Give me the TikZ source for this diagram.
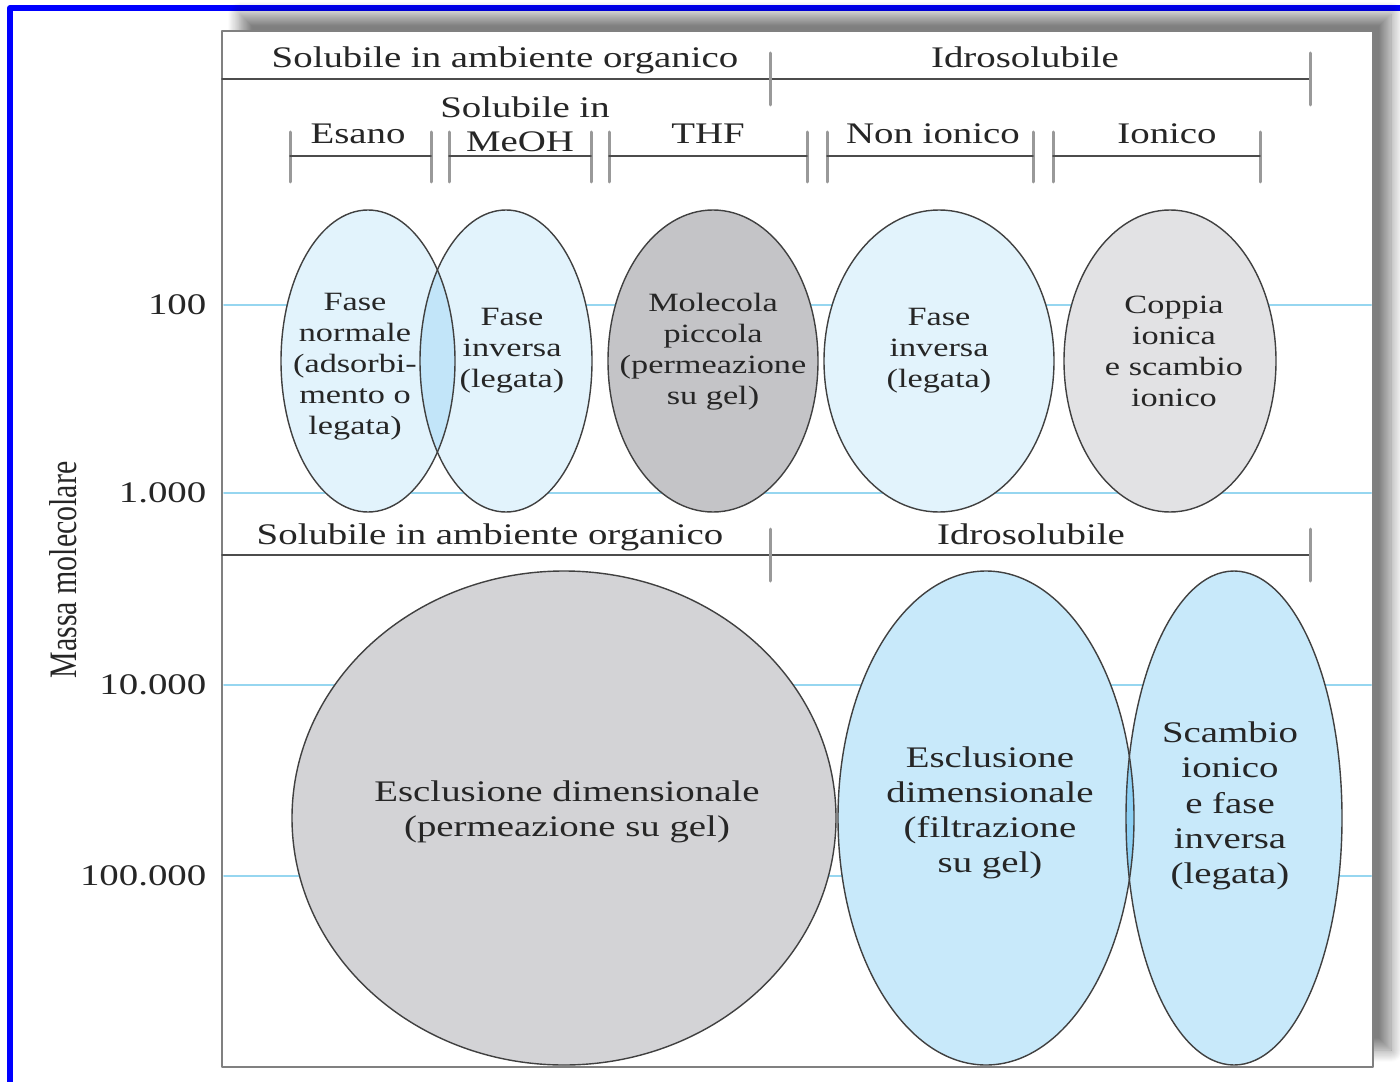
\documentclass[tikz,border=0pt]{standalone}
\usepackage{fontspec}
\setmainfont[FakeStretch=1.3]{Liberation Serif}
\newfontfamily\assefont{Liberation Serif}
\usetikzlibrary{shadows.blur}
\definecolor{cornice}{RGB}{0,0,255}
\definecolor{griglia}{RGB}{150,214,240}
\definecolor{celeste}{RGB}{226,243,252}
\definecolor{azzurro}{RGB}{200,233,250}
\definecolor{lente}{RGB}{194,229,249}
\definecolor{lentescura}{RGB}{140,208,244}
\definecolor{grigio}{RGB}{196,196,199}
\definecolor{grigiochiaro}{RGB}{226,226,228}
\definecolor{grigiomedio}{RGB}{211,211,214}
\begin{document}
\begin{tikzpicture}[x=0.01cm,y=-0.01cm,line join=round,line cap=round,
  font=\fontsize{8.5}{10}\selectfont,
  linea/.style={draw=black!70,line width=0.018cm},
  staffa/.style={draw=black!40,line width=0.03cm},
  bordo/.style={draw=black!75,line width=0.014cm},
  testo/.style={align=center,inner sep=0pt,text=black!85},
  piccolo/.style={testo,font=\fontsize{7.5}{8.8}\selectfont}]
\def \xmin{222};
\def \xmax{1373};
\useasboundingbox (0,0) rectangle (1400,1082);
\clip (0,0) rectangle (1400,1082);
\draw[cornice,line width=0.06cm] (10,1100) |- (1420,8);
\path[fill=white,draw=black!50,line width=0.02cm,
  blur shadow={shadow xshift=0.18cm,shadow yshift=0.17cm,shadow blur radius=0.12cm,
    shadow blur steps=12,shadow opacity=50}]
  (\xmin,31) rectangle (\xmax,1067);
\foreach \y/\l in {305/100,493/{1.000},685/{10.000},876/{100.000}}{
  \draw[griglia,line width=0.02cm] (\xmin+2,\y) -- (\xmax-2,\y);
  \node[testo,anchor=east] (m\y) at (207,\y) {\l};}
\node[rotate=90,inner sep=0pt,text=black!85] (massa) at (63,570) {\assefont\scalebox{1}[1.3]{Massa molecolare}};
\foreach \y in {79,555}{
  \draw[linea] (\xmin,\y) -- (1310,\y);
  \draw[staffa] (770,\y-26) -- (770,\y+26) (1310,\y-26) -- (1310,\y+26);}
\node[testo,anchor=base] (org1) at (505,68) {Solubile in ambiente organico};
\node[testo,anchor=base] (idro1) at (1025,68) {Idrosolubile};
\node[testo,anchor=base] (org2) at (490,544) {Solubile in ambiente organico};
\node[testo,anchor=base] (idro2) at (1031,544) {Idrosolubile};
\foreach \a/\b in {290/431,449/591,609/807,827/1033,1053/1260}{
  \draw[staffa] (\a,132) -- (\a,182) (\b,132) -- (\b,182);
  \draw[linea] (\a,156) -- (\b,156);}
\node[testo,anchor=base] (esano) at (358,144) {Esano};
\node[testo,anchor=base] (sol) at (525,118) {Solubile in};
\node[testo,anchor=base] (meoh) at (520,152) {MeOH};
\node[testo,anchor=base] (thf) at (708,144) {THF};
\node[testo,anchor=base] (nonion) at (933,144) {Non ionico};
\node[testo,anchor=base] (ionico) at (1167,144) {Ionico};
\foreach \x/\y/\rx/\ry/\c in {368/361/87/151/celeste,506/361/86/151/celeste,713/361/105/151/grigio,
  939/361/115/151/celeste,1170/361/106/151/grigiochiaro,564/818/272/247/grigiomedio,
  986/818/148/247/azzurro,1234/818/108/247/azzurro}{
  \fill[\c] (\x,\y) ellipse[x radius=\rx,y radius=\ry];}
\begin{scope}
  \clip (368,361) ellipse[x radius=87,y radius=151];
  \fill[lente] (506,361) ellipse[x radius=86,y radius=151];
\end{scope}
\begin{scope}
  \clip (986,818) ellipse[x radius=148,y radius=247];
  \fill[lentescura] (1234,818) ellipse[x radius=108,y radius=247];
\end{scope}
\foreach \x/\y/\rx/\ry in {368/361/87/151,506/361/86/151,713/361/105/151,939/361/115/151,
  1170/361/106/151,564/818/272/247,986/818/148/247,1234/818/108/247}{
  \draw[bordo] (\x,\y) ellipse[x radius=\rx,y radius=\ry];}
\node[piccolo] (fn) at (355,367) {Fase\\normale\\(adsorbi-\\mento o\\legata)};
\node[piccolo] (fi) at (512,351) {Fase\\inversa\\(legata)};
\node[piccolo] (mp) at (713,352) {Molecola\\piccola\\(permeazione\\su gel)};
\node[piccolo] (fin) at (939,351) {Fase\\inversa\\(legata)};
\node[piccolo] (ci) at (1174,351) {Coppia\\ionica\\e scambio\\ionico};
\node[testo] (edp) at (567,812) {Esclusione dimensionale\\(permeazione su gel)};
\node[testo] (edf) at (990,813) {Esclusione\\dimensionale\\(filtrazione\\su gel)};
\node[testo] (sif) at (1230,806) {Scambio\\ionico\\e fase\\inversa\\(legata)};
\end{tikzpicture}
\end{document}
